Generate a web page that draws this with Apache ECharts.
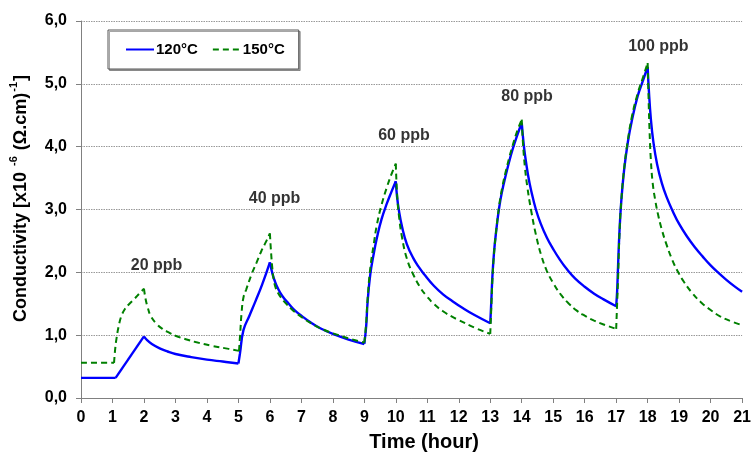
<!DOCTYPE html>
<html>
<head>
<meta charset="utf-8">
<script src="https://cdn.jsdelivr.net/npm/echarts@6/dist/echarts.min.js"></script>
<style>
  html, body { margin: 0; padding: 0; background: #fff; }
  #chart { width: 754px; height: 457px; }
</style>
</head>
<body>
<div id="chart"></div>
<script>
// Conductivity response to successive ppb injections at two temperatures

const hours120 = [
  0, 1.1, 2.0, 2.1, 2.25, 2.5, 2.75, 3.0, 3.5, 4.0, 4.5, 5.0,
  5.05, 5.16, 5.35, 5.55, 5.75, 6.0,
  6.08, 6.15, 6.25, 6.4, 6.6, 6.8, 7.0, 7.3, 7.6, 8.0, 8.5, 9.0,
  9.06, 9.1, 9.19, 9.3, 9.4, 9.55, 9.72, 9.86, 10.0,
  10.04, 10.1, 10.2, 10.35, 10.55, 10.75, 10.9, 11.2, 11.5, 11.8, 12.1, 12.5, 13.0,
  13.03, 13.07, 13.12, 13.18, 13.28, 13.38, 13.49, 13.6, 13.7, 13.85, 14.0,
  14.05, 14.1, 14.2, 14.3, 14.45, 14.6, 14.8, 15.0, 15.2, 15.45, 15.7, 16.0, 16.3, 16.6, 17.0,
  17.03, 17.06, 17.1, 17.16, 17.25, 17.37, 17.5, 17.68, 17.85, 18.0,
  18.04, 18.1, 18.18, 18.3, 18.45, 18.6, 18.8, 19.0, 19.25, 19.5, 19.75, 20.0, 20.25, 20.5, 20.75, 21.0
];
const cond120 = [
  0.32, 0.32, 0.98, 0.92, 0.86, 0.79, 0.74, 0.70, 0.65, 0.61, 0.58, 0.55,
  0.71, 1.08, 1.31, 1.55, 1.80, 2.16,
  1.98, 1.87, 1.75, 1.62, 1.50, 1.39, 1.31, 1.20, 1.11, 1.02, 0.93, 0.86,
  1.15, 1.50, 1.97, 2.30, 2.55, 2.85, 3.10, 3.28, 3.45,
  3.20, 2.98, 2.72, 2.45, 2.23, 2.07, 1.97, 1.79, 1.65, 1.54, 1.44, 1.32, 1.19,
  1.50, 1.95, 2.32, 2.62, 3.02, 3.30, 3.54, 3.76, 3.94, 4.17, 4.38,
  4.10, 3.88, 3.55, 3.30, 3.00, 2.78, 2.55, 2.37, 2.21, 2.04, 1.90, 1.77, 1.66, 1.57, 1.46,
  1.70, 2.10, 2.60, 3.12, 3.62, 4.07, 4.42, 4.80, 5.05, 5.27,
  4.88, 4.45, 4.08, 3.72, 3.42, 3.20, 2.97, 2.77, 2.57, 2.40, 2.25, 2.11, 1.99, 1.88, 1.78, 1.69
];

const hours150 = [
  0, 1.05, 1.08, 1.12, 1.2, 1.28, 1.4, 1.54, 1.7, 1.85, 2.0,
  2.05, 2.12, 2.22, 2.4, 2.59, 2.8, 3.0, 3.3, 3.64, 4.16, 4.6, 5.02,
  5.06, 5.1, 5.16, 5.25, 5.42, 5.58, 5.73, 5.87, 6.0,
  6.04, 6.08, 6.12, 6.18, 6.25, 6.35, 6.5, 6.7, 7.0, 7.3, 7.6, 8.0, 8.5, 9.0,
  9.06, 9.1, 9.19, 9.3, 9.4, 9.55, 9.72, 9.86, 10.0,
  10.04, 10.1, 10.2, 10.35, 10.55, 10.8, 11.0, 11.2, 11.5, 11.8, 12.0, 12.5, 13.0,
  13.03, 13.07, 13.12, 13.18, 13.28, 13.38, 13.49, 13.6, 13.7, 13.85, 14.0,
  14.04, 14.1, 14.18, 14.3, 14.45, 14.62, 14.8, 15.0, 15.25, 15.5, 15.75, 16.0, 16.3, 16.6, 17.0,
  17.03, 17.06, 17.1, 17.16, 17.25, 17.37, 17.5, 17.68, 17.85, 18.0,
  18.03, 18.06, 18.1, 18.16, 18.24, 18.33, 18.45, 18.6, 18.78, 18.95, 19.15, 19.4, 19.7, 20.0, 20.3, 20.65, 21.0
];
const cond150 = [
  0.56, 0.56, 0.75, 0.92, 1.15, 1.30, 1.42, 1.50, 1.58, 1.66, 1.74,
  1.58, 1.44, 1.30, 1.18, 1.10, 1.04, 0.99, 0.94, 0.89, 0.83, 0.79, 0.75,
  1.05, 1.35, 1.60, 1.73, 1.97, 2.16, 2.34, 2.48, 2.62,
  2.30, 2.05, 1.89, 1.76, 1.68, 1.60, 1.51, 1.41, 1.29, 1.19, 1.11, 1.03, 0.95, 0.88,
  1.20, 1.55, 2.07, 2.45, 2.76, 3.08, 3.36, 3.56, 3.73,
  3.25, 2.90, 2.55, 2.22, 1.97, 1.74, 1.61, 1.50, 1.38, 1.29, 1.24, 1.12, 1.02,
  1.40, 1.90, 2.30, 2.62, 3.05, 3.35, 3.60, 3.82, 4.00, 4.24, 4.43,
  4.05, 3.68, 3.35, 2.98, 2.60, 2.27, 2.02, 1.83, 1.64, 1.50, 1.39, 1.31, 1.23, 1.17, 1.10,
  1.50, 1.90, 2.55, 3.12, 3.64, 4.10, 4.48, 4.84, 5.10, 5.33,
  4.75, 4.25, 3.80, 3.42, 3.15, 2.92, 2.68, 2.44, 2.20, 2.02, 1.85, 1.68, 1.52, 1.40, 1.30, 1.22, 1.16
];

// Concentration annotations: text and where it sits (hour, conductivity)
const doseLabels = ['20 ppb', '40 ppb', '60 ppb', '80 ppb', '100 ppb'];
const doseLabelHours = [2.4, 6.15, 10.26, 14.17, 18.34];
const doseLabelLevels = [2.1, 3.18, 4.17, 4.79, 5.59];

const xTicks = { min: 0, max: 21, step: 1 };
const yTicks = { min: 0, max: 6, step: 1 };

const FONT = '"Liberation Sans", Arial, sans-serif';

const zip = (xs, ys) => xs.map((x, i) => [x, ys[i]]);

// Cut a trace into its flat / rising / falling stretches so that curve
// smoothing never rounds off the sharp turn at an injection start or stop.
function stretches(points) {
  const out = [];
  let cur = [points[0]];
  let dir = null;
  for (let i = 1; i < points.length; i++) {
    const d = Math.sign(points[i][1] - points[i - 1][1]);
    if (dir !== null && d !== dir) {
      out.push(cur);
      cur = [points[i - 1]];
    }
    dir = d;
    cur.push(points[i]);
  }
  out.push(cur);
  return out;
}

function traceSeries(name, points, lineStyle, z) {
  return stretches(points).map(seg => ({
    name,
    type: 'line',
    data: seg,
    showSymbol: false,
    symbol: 'none',
    smooth: 0.45,
    lineStyle,
    itemStyle: { color: lineStyle.color },
    z
  }));
}

const blueStyle = { color: '#0000FF', width: 2.4 };
const greenStyle = { color: '#008000', width: 2, type: [6, 4] };

const chart = echarts.init(document.getElementById('chart'), null, { renderer: 'canvas' });

chart.setOption({
  animation: false,
  backgroundColor: '#fff',
  grid: { left: 78, right: 9, top: 21, bottom: 55, containLabel: false },
  legend: {
    data: ['120°C', '150°C'],
    left: 108,
    top: 30,
    padding: [12, 14, 12, 17],
    itemGap: 14,
    itemWidth: 28,
    itemHeight: 14,
    backgroundColor: '#fff',
    borderColor: '#555',
    borderWidth: 1,
    shadowColor: 'rgba(0,0,0,0.35)',
    shadowOffsetX: 1.5,
    shadowOffsetY: 1.5,
    itemStyle: { opacity: 0 },
    lineStyle: { width: 2 },
    textStyle: { fontFamily: FONT, fontWeight: 'bold', fontSize: 15, color: '#000', padding: [0, 0, 0, -3] }
  },
  xAxis: {
    type: 'value',
    min: xTicks.min,
    max: xTicks.max,
    interval: xTicks.step,
    name: 'Time (hour)',
    nameLocation: 'middle',
    nameGap: 34,
    nameTextStyle: { fontFamily: FONT, fontWeight: 'bold', fontSize: 20, color: '#000', padding: [0, 0, 0, 25] },
    axisLine: { lineStyle: { color: '#808080', width: 1 } },
    axisTick: { show: true, inside: false, length: 5, lineStyle: { color: '#808080' } },
    axisLabel: { fontFamily: FONT, fontWeight: 'bold', fontSize: 16, color: '#000', margin: 12 },
    splitLine: { show: false }
  },
  yAxis: {
    type: 'value',
    min: yTicks.min,
    max: yTicks.max,
    interval: yTicks.step,
    name: '{a|Conductivity [x10 }{s|-6}{a| (Ω.cm)}{s|-1}{a|]}',
    nameLocation: 'middle',
    nameGap: 51,
    nameTextStyle: {
      padding: [0, 0, 0, 22],
      rich: {
        a: { fontFamily: FONT, fontWeight: 'bold', fontSize: 18, color: '#000', lineHeight: 22, verticalAlign: 'bottom' },
        s: { fontFamily: FONT, fontWeight: 'bold', fontSize: 11, color: '#000', lineHeight: 22, verticalAlign: 'top', padding: [0, 1, 0, 1] }
      }
    },
    axisLine: { show: true, lineStyle: { color: '#808080', width: 1 } },
    axisTick: { show: true, inside: false, length: 5, lineStyle: { color: '#808080' } },
    axisLabel: {
      fontFamily: FONT, fontWeight: 'bold', fontSize: 16, color: '#000', margin: 14,
      formatter: v => v.toFixed(1).replace('.', ',')
    },
    splitLine: { show: true, lineStyle: { color: '#999', type: [1.5, 1], width: 1 } }
  },
  series: [
    ...traceSeries('120°C', zip(hours120, cond120), blueStyle, 3),
    ...traceSeries('150°C', zip(hours150, cond150), greenStyle, 4),
    {
      name: 'dose',
      type: 'scatter',
      silent: true,
      symbolSize: 0,
      data: doseLabels.map((t, i) => ({ value: [doseLabelHours[i], doseLabelLevels[i]], name: t })),
      label: {
        show: true,
        position: 'inside',
        formatter: p => p.name,
        fontFamily: FONT, fontWeight: 'bold', fontSize: 16, color: '#000'
      },
      z: 5
    }
  ]
});
</script>
</body>
</html>
